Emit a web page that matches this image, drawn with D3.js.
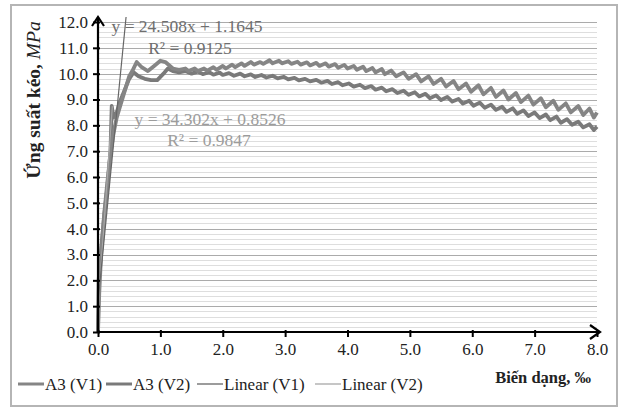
<!DOCTYPE html>
<html><head><meta charset="utf-8">
<script src="https://cdn.jsdelivr.net/npm/d3@7"></script>
<style>
html,body{margin:0;padding:0;background:#fff;}
svg text{font-family:"Liberation Serif","Times New Roman",serif !important;}
</style></head>
<body><svg id="c" width="622" height="409"></svg>
<script>
// ---- data ----
const xTicks = [0,1,2,3,4,5,6,7,8];
const yTicks = [0,1,2,3,4,5,6,7,8,9,10,11,12];
const xTickLabels = ["0.0","1.0","2.0","3.0","4.0","5.0","6.0","7.0","8.0"];
const yTickLabels = ["0.0","1.0","2.0","3.0","4.0","5.0","6.0","7.0","8.0","9.0","10.0","11.0","12.0"];
const yMinor = [0.2,0.4,0.6,0.8,1.2,1.4,1.6,1.8,2.2,2.4,2.6,2.8,3.2,3.4,3.6,3.8,4.2,4.4,4.6,4.8,5.2,5.4,5.6,5.8,6.2,6.4,6.6,6.8,7.2,7.4,7.6,7.8,8.2,8.4,8.6,8.8,9.2,9.4,9.6,9.8,10.2,10.4,10.6,10.8,11.2,11.4,11.6,11.8];

const v1X = [0,0.02,0.05,0.1,0.15,0.2,0.25,0.3,0.35,0.4,0.45,0.5,0.55,0.62,0.7,0.8,0.9,1.0,1.08,1.2,1.3,1.4,1.45,1.55,1.6,1.7,1.75,1.85,1.9,2.0,2.05,2.15,2.2,2.3,2.35,2.45,2.5,2.6,2.65,2.75,2.8,2.9,2.95,3.05,3.1,3.2,3.25,3.35,3.4,3.5,3.55,3.65,3.7,3.8,3.85,3.95,4.0,4.1,4.15,4.25,4.3,4.4,4.45,4.55,4.6,4.7,4.78,4.9,4.98,5.1,5.18,5.3,5.38,5.5,5.58,5.7,5.78,5.9,5.98,6.1,6.18,6.3,6.38,6.5,6.58,6.7,6.78,6.9,6.98,7.1,7.18,7.3,7.38,7.5,7.58,7.7,7.78,7.88,7.95,8.0];
const v1Y = [0,1.5,3.0,4.6,5.8,6.9,7.7,8.3,8.7,9.1,9.5,9.9,10.1,10.45,10.25,10.1,10.3,10.5,10.45,10.2,10.15,10.2,10.1,10.2,10.1,10.2,10.12,10.25,10.15,10.3,10.2,10.35,10.25,10.4,10.3,10.45,10.35,10.45,10.38,10.52,10.4,10.5,10.4,10.48,10.38,10.46,10.35,10.44,10.32,10.42,10.3,10.4,10.27,10.37,10.23,10.34,10.2,10.3,10.15,10.27,10.1,10.22,10.05,10.18,9.98,10.12,9.9,10.05,9.8,9.98,9.7,9.9,9.6,9.8,9.5,9.72,9.4,9.62,9.3,9.55,9.2,9.45,9.1,9.35,9.0,9.25,8.9,9.15,8.8,9.05,8.7,8.95,8.6,8.85,8.5,8.75,8.4,8.65,8.3,8.5];

const v2X = [0,0.01,0.05,0.1,0.15,0.2,0.22,0.25,0.3,0.35,0.4,0.45,0.5,0.57,0.65,0.75,0.85,0.95,1.05,1.12,1.2,1.3,1.4,1.5,1.6,1.68,1.78,1.85,1.95,2.0,2.1,2.18,2.28,2.35,2.45,2.52,2.62,2.7,2.8,2.88,2.98,3.05,3.15,3.22,3.32,3.4,3.5,3.58,3.68,3.75,3.85,3.92,4.02,4.1,4.2,4.28,4.38,4.45,4.55,4.62,4.72,4.8,4.9,4.98,5.08,5.15,5.25,5.32,5.42,5.5,5.6,5.68,5.78,5.85,5.95,6.02,6.12,6.2,6.3,6.38,6.48,6.55,6.65,6.72,6.82,6.9,7.0,7.08,7.18,7.25,7.35,7.42,7.52,7.6,7.7,7.78,7.88,7.95,8.0];
const v2Y = [0,2.0,3.2,4.5,5.6,7.0,8.75,8.3,8.5,8.9,9.2,9.5,9.8,10.05,9.9,9.8,9.75,9.75,10.0,10.2,10.1,10.05,10.1,10.0,10.08,9.98,10.06,9.96,10.04,9.95,10.02,9.92,10.0,9.9,9.97,9.87,9.95,9.85,9.92,9.82,9.88,9.78,9.84,9.74,9.8,9.7,9.76,9.65,9.72,9.6,9.67,9.55,9.62,9.5,9.57,9.44,9.52,9.38,9.46,9.32,9.4,9.25,9.34,9.18,9.28,9.12,9.22,9.05,9.16,8.98,9.1,8.92,9.02,8.84,8.95,8.76,8.88,8.68,8.8,8.6,8.72,8.52,8.66,8.44,8.58,8.36,8.5,8.28,8.42,8.2,8.34,8.1,8.24,8.02,8.14,7.92,8.04,7.82,7.95];

const linV1X = [0, 0.45];
const linV1Y = [1.1645, 12.193];
const linV2X = [0, 0.23];
const linV2Y = [0.8526, 8.742];

const legendLabels = ["A3 (V1)","A3 (V2)","Linear (V1)","Linear (V2)"];
const eq1 = ["y = 24.508x + 1.1645","R² = 0.9125"];
const eq2 = ["y = 34.302x + 0.8526","R² = 0.9847"];

// ---- drawing ----
const FONT = "Liberation Serif, Times New Roman, serif";
const svg = d3.select("#c");
const x = d3.scaleLinear().domain([0,8]).range([98,597]);
const y = d3.scaleLinear().domain([0,12]).range([332,22]);

svg.append("rect").attr("x",11).attr("y",5).attr("width",606).attr("height",401)
  .attr("fill","#fff").attr("stroke","#b5b5b5").attr("stroke-width",2);

// minor grid
svg.append("g").selectAll("line").data(yMinor).join("line")
  .attr("x1",x(0)).attr("x2",x(8)).attr("y1",d=>Math.round(y(d))+0.5).attr("y2",d=>Math.round(y(d))+0.5)
  .attr("stroke","#dedede").attr("stroke-width",1);
// major grid
svg.append("g").selectAll("line").data(yTicks.filter(d=>d>0)).join("line")
  .attr("x1",x(0)).attr("x2",x(8)).attr("y1",d=>Math.round(y(d))+0.5).attr("y2",d=>Math.round(y(d))+0.5)
  .attr("stroke","#ababab").attr("stroke-width",1.2);

// curves
const line = d3.line().x(d=>x(d[0])).y(d=>y(d[1]));
const s1 = v1X.map((v,i)=>[v,v1Y[i]]);
const s2 = v2X.map((v,i)=>[v,v2Y[i]]);
svg.append("path").attr("d",line(s2)).attr("fill","none").attr("stroke","#7a7a7a").attr("stroke-width",3.8).attr("stroke-linejoin","round");
svg.append("path").attr("d",line(s1)).attr("fill","none").attr("stroke","#858585").attr("stroke-width",3.8).attr("stroke-linejoin","round");

// trendlines
svg.append("path").attr("d",line(linV2X.map((v,i)=>[v,linV2Y[i]]))).attr("fill","none").attr("stroke","#a8a8a8").attr("stroke-width",1.2);
svg.append("path").attr("d",line(linV1X.map((v,i)=>[v,linV1Y[i]]))).attr("fill","none").attr("stroke","#666").attr("stroke-width",1.2);

// axes
const yAxis = d3.axisLeft(y).tickValues(yTicks).tickFormat((d,i)=>yTickLabels[i]).tickSize(5).tickPadding(5);
const gy = svg.append("g").attr("transform",`translate(${x(0)},0)`).call(yAxis).attr("font-family",FONT);
gy.select(".domain").remove();
gy.selectAll(".tick line").attr("stroke","#000").attr("stroke-width",2).attr("x2",-5).attr("x1",2);
gy.selectAll(".tick text").attr("font-size",17).attr("fill","#222").style("font-family",FONT);

const xAxis = d3.axisBottom(x).tickValues(xTicks).tickFormat((d,i)=>xTickLabels[i]).tickSize(5).tickPadding(6);
const gx = svg.append("g").attr("transform",`translate(0,${y(0)})`).call(xAxis).attr("font-family",FONT);
gx.select(".domain").remove();
gx.selectAll(".tick line").attr("stroke","#000").attr("stroke-width",2).attr("y1",-2);
gx.selectAll(".tick text").attr("font-size",17).attr("fill","#222").style("font-family",FONT);

// axis lines with arrows
svg.append("line").attr("x1",x(0)).attr("x2",x(0)).attr("y1",y(0)+1).attr("y2",y(12)-5).attr("stroke","#000").attr("stroke-width",2.2);
svg.append("path").attr("d",`M${x(0)-6},${y(12)+4} L${x(0)},${y(12)-5} L${x(0)+6},${y(12)+4}`).attr("fill","none").attr("stroke","#000").attr("stroke-width",2.2);
svg.append("line").attr("x1",x(0)-1).attr("x2",x(8)+3).attr("y1",y(0)).attr("y2",y(0)).attr("stroke","#000").attr("stroke-width",2.2);
svg.append("path").attr("d",`M${x(8)-7},${y(0)-7} L${x(8)+3},${y(0)} L${x(8)-7},${y(0)+7}`).attr("fill","none").attr("stroke","#000").attr("stroke-width",2.2);

// equations
const eqg = svg.append("g").style("font-family",FONT).attr("font-size",17.5).attr("text-anchor","middle");
eqg.append("text").attr("x",187).attr("y",32).attr("fill","#6e6e6e").text(eq1[0]);
eqg.append("text").attr("x",190).attr("y",54).attr("fill","#6e6e6e").text(eq1[1]);
eqg.append("text").attr("x",210).attr("y",125).attr("fill","#9c9c9c").text(eq2[0]);
eqg.append("text").attr("x",209).attr("y",146).attr("fill","#9c9c9c").text(eq2[1]);

// y title
const yt = svg.append("text").attr("transform","translate(40,100) rotate(-90)").attr("text-anchor","middle")
  .style("font-family",FONT).attr("font-size",19.5).attr("font-weight","bold").attr("fill","#222");
yt.append("tspan").text("Ứng suất kéo, ");
yt.append("tspan").attr("font-style","italic").attr("font-weight","normal").text("MPa");

// x title
svg.append("text").attr("x",591).attr("y",383).attr("text-anchor","end").attr("font-size",16.5)
  .style("font-family",FONT).attr("font-weight","bold").attr("fill","#222").text("Biến dạng, ‰");

// legend
const legColors = ["#858585","#7a7a7a","#666","#a8a8a8"];
const legWidths = [3,3,1.3,1.3];
const legX = [18,106,197,315];
const lg = svg.append("g").style("font-family",FONT);
legendLabels.forEach((t,i)=>{
  lg.append("line").attr("x1",legX[i]).attr("x2",legX[i]+26).attr("y1",384).attr("y2",384)
    .attr("stroke",legColors[i]).attr("stroke-width",legWidths[i]);
  lg.append("text").attr("x",legX[i]+27).attr("y",390).attr("font-size",17).attr("fill","#222").style("font-family",FONT).text(t);
});
</script></body></html>
